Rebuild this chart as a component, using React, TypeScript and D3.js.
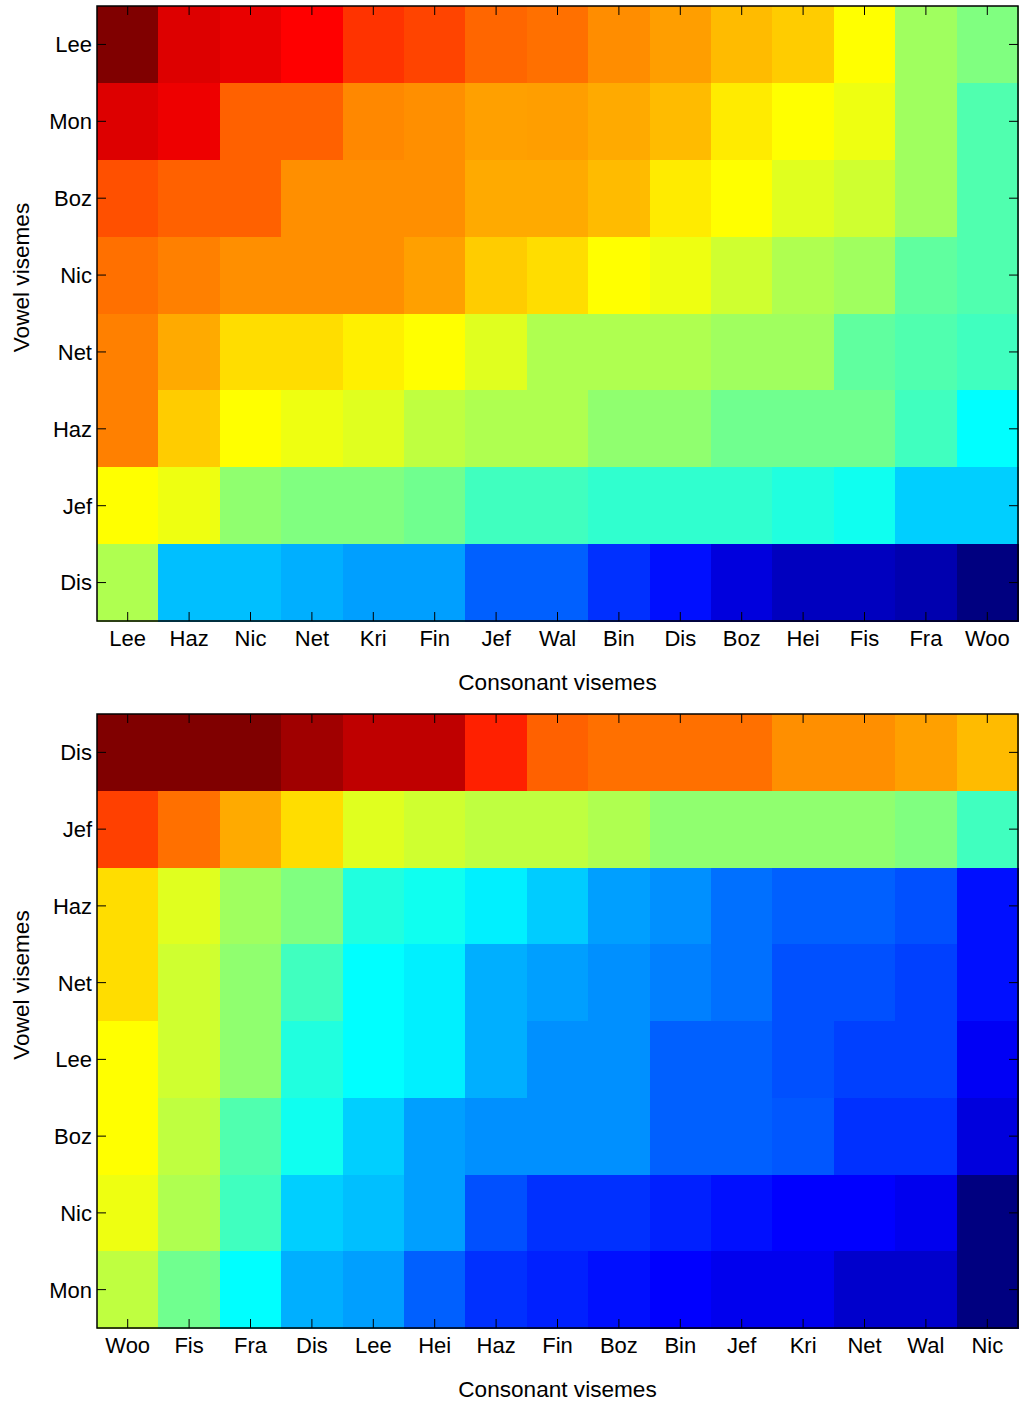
import React from "react";
import * as d3 from "d3";

// ---- Data ----
const topRows = ["Lee", "Mon", "Boz", "Nic", "Net", "Haz", "Jef", "Dis"];
const topCols = ["Lee", "Haz", "Nic", "Net", "Kri", "Fin", "Jef", "Wal", "Bin", "Dis", "Boz", "Hei", "Fis", "Fra", "Woo"];
const topValues: number[][] = [
  [1.0, 0.908, 0.897, 0.875, 0.825, 0.808, 0.775, 0.765, 0.737, 0.72, 0.692, 0.675, 0.625, 0.532, 0.5],
  [0.908, 0.892, 0.78, 0.78, 0.742, 0.735, 0.718, 0.72, 0.708, 0.692, 0.645, 0.625, 0.608, 0.532, 0.453],
  [0.797, 0.78, 0.78, 0.735, 0.735, 0.735, 0.708, 0.708, 0.692, 0.645, 0.625, 0.595, 0.578, 0.532, 0.453],
  [0.765, 0.75, 0.735, 0.735, 0.735, 0.718, 0.675, 0.658, 0.625, 0.608, 0.578, 0.547, 0.532, 0.469, 0.453],
  [0.75, 0.708, 0.658, 0.658, 0.64, 0.625, 0.595, 0.547, 0.547, 0.547, 0.532, 0.532, 0.469, 0.453, 0.4375],
  [0.75, 0.675, 0.625, 0.608, 0.595, 0.5625, 0.547, 0.547, 0.516, 0.516, 0.485, 0.485, 0.485, 0.4375, 0.375],
  [0.625, 0.608, 0.516, 0.5, 0.5, 0.485, 0.4375, 0.4375, 0.422, 0.422, 0.422, 0.406, 0.39, 0.328, 0.328],
  [0.547, 0.3125, 0.3125, 0.297, 0.281, 0.281, 0.219, 0.219, 0.172, 0.14, 0.092, 0.0625, 0.0625, 0.047, 0.0],
];

const bottomRows = ["Dis", "Jef", "Haz", "Net", "Lee", "Boz", "Nic", "Mon"];
const bottomCols = ["Woo", "Fis", "Fra", "Dis", "Lee", "Hei", "Haz", "Fin", "Boz", "Bin", "Jef", "Kri", "Net", "Wal", "Nic"];
const bottomValues: number[][] = [
  [1.0, 1.0, 1.0, 0.968, 0.9375, 0.9375, 0.844, 0.78, 0.765, 0.765, 0.765, 0.735, 0.735, 0.718, 0.692],
  [0.8125, 0.765, 0.708, 0.658, 0.595, 0.578, 0.5625, 0.5625, 0.547, 0.516, 0.516, 0.516, 0.516, 0.5, 0.4375],
  [0.658, 0.595, 0.532, 0.5, 0.406, 0.39, 0.36, 0.325, 0.281, 0.266, 0.235, 0.219, 0.219, 0.203, 0.14],
  [0.658, 0.578, 0.516, 0.4375, 0.375, 0.36, 0.297, 0.281, 0.266, 0.25, 0.235, 0.203, 0.203, 0.1875, 0.14],
  [0.625, 0.578, 0.516, 0.406, 0.375, 0.36, 0.297, 0.266, 0.266, 0.219, 0.219, 0.203, 0.1875, 0.1875, 0.115],
  [0.625, 0.5625, 0.453, 0.39, 0.328, 0.281, 0.266, 0.266, 0.266, 0.219, 0.219, 0.21, 0.172, 0.172, 0.092],
  [0.608, 0.547, 0.4375, 0.328, 0.3125, 0.281, 0.203, 0.172, 0.172, 0.156, 0.14, 0.125, 0.125, 0.108, 0.0],
  [0.5625, 0.485, 0.375, 0.297, 0.281, 0.219, 0.172, 0.156, 0.14, 0.125, 0.108, 0.108, 0.075, 0.075, 0.0],
];

const xTitle = "Consonant visemes";
const yTitle = "Vowel visemes";

// MATLAB-like jet colormap
function jet(v: number): string {
  const c = (x: number) => Math.max(0, Math.min(1, x));
  const r = c(1.5 - Math.abs(4 * v - 3));
  const g = c(1.5 - Math.abs(4 * v - 2));
  const b = c(1.5 - Math.abs(4 * v - 1));
  return d3.rgb(r * 255, g * 255, b * 255).formatHex();
}

const FONT = "'Liberation Sans', Arial, Helvetica, sans-serif";

type HeatProps = {
  rows: string[];
  cols: string[];
  values: number[][];
  x0: number;
  x1: number;
  y0: number;
  y1: number;
};

function Heatmap({ rows, cols, values, x0, x1, y0, y1 }: HeatProps) {
  const x = d3.scaleBand<string>().domain(cols.map((_, i) => String(i))).range([x0, x1]).padding(0);
  const y = d3.scaleBand<string>().domain(rows.map((_, i) => String(i))).range([y0, y1]).padding(0);
  const bw = x.bandwidth();
  const bh = y.bandwidth();
  const tick = 9;
  return (
    <g>
      {values.map((row, ri) =>
        row.map((v, ci) => (
          <rect
            key={`${ri}-${ci}`}
            x={x(String(ci))!}
            y={y(String(ri))!}
            width={bw + 0.5}
            height={bh + 0.5}
            fill={jet(v)}
            shapeRendering="crispEdges"
          />
        ))
      )}
      {cols.map((c, ci) => {
        const cx = x(String(ci))! + bw / 2;
        return (
          <g key={`xt${ci}`}>
            <line x1={cx} x2={cx} y1={y1} y2={y1 - tick} stroke="#000" strokeWidth={1} />
            <line x1={cx} x2={cx} y1={y0} y2={y0 + tick} stroke="#000" strokeWidth={1} />
            <text x={cx} y={y1 + 25} textAnchor="middle" fontFamily={FONT} fontSize={22} fill="#000">
              {c}
            </text>
          </g>
        );
      })}
      {rows.map((r, ri) => {
        const cy = y(String(ri))! + bh / 2;
        return (
          <g key={`yt${ri}`}>
            <line x1={x0} x2={x0 + tick} y1={cy} y2={cy} stroke="#000" strokeWidth={1} />
            <line x1={x1} x2={x1 - tick} y1={cy} y2={cy} stroke="#000" strokeWidth={1} />
            <text x={x0 - 5} y={cy} dy="0.36em" textAnchor="end" fontFamily={FONT} fontSize={22} fill="#000">
              {r}
            </text>
          </g>
        );
      })}
      <rect x={x0} y={y0} width={x1 - x0} height={y1 - y0} fill="none" stroke="#000" strokeWidth={1.5} />
      <text x={(x0 + x1) / 2} y={y1 + 69} textAnchor="middle" fontFamily={FONT} fontSize={22.6} fill="#000">
        {xTitle}
      </text>
      <text
        transform={`translate(29,${(y0 + y1) / 2 - 36}) rotate(-90)`}
        textAnchor="middle"
        fontFamily={FONT}
        fontSize={22.6}
        fill="#000"
      >
        {yTitle}
      </text>
    </g>
  );
}

export default function App() {
  return (
    <svg
      width={1021}
      height={1406}
      style={{ position: "absolute", left: 0, top: 0, background: "#fff" }}
    >
      <rect x={0} y={0} width={1021} height={1406} fill="#fff" />
      <Heatmap rows={topRows} cols={topCols} values={topValues} x0={97} x1={1018} y0={6} y1={621} />
      <Heatmap rows={bottomRows} cols={bottomCols} values={bottomValues} x0={97} x1={1018} y0={714} y1={1328} />
    </svg>
  );
}
